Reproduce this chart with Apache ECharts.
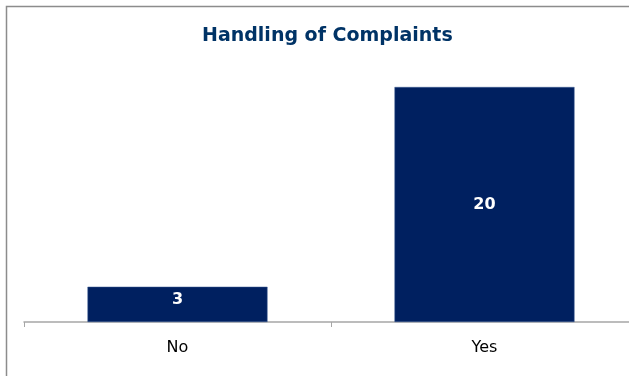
<!DOCTYPE html>
<html>
<head>
<meta charset="utf-8">
<script src="https://cdn.jsdelivr.net/npm/echarts@6/dist/echarts.min.js"></script>
<style>
  html, body { margin: 0; padding: 0; background: #fff; }
  #chart { width: 629px; height: 376px; }
</style>
</head>
<body>
<div id="chart"></div>
<script>
// Responses to the complaints-handling question
const categories = ['No', 'Yes'];
const counts = [3, 20];
const chartTitle = 'Handling of Complaints';

const navy = '#002060';

// short bars get their value label nudged up a little
const barData = counts.map(v => (v < 5 ? { value: v, label: { offset: [0, -5] } } : v));

const chart = echarts.init(document.getElementById('chart'));
chart.setOption({
  animation: false,
  title: {
    text: chartTitle,
    left: 197,
    top: 22,
    textStyle: {
      fontFamily: 'DejaVu Sans',
      fontWeight: 'bold',
      fontSize: 19,
      color: '#003366'
    }
  },
  graphic: [{
    type: 'rect',
    shape: { x: 6.5, y: 6.5, width: 640, height: 400 },
    style: { fill: null, stroke: '#8c8c8c', lineWidth: 1.5 },
    z: -1
  }],
  // the plot runs on past the right edge of the frame
  grid: { left: 24, width: 614, top: 63.5, bottom: 54, outerBoundsMode: 'none', containLabel: false },
  xAxis: {
    type: 'category',
    data: categories,
    axisLine: { lineStyle: { color: '#a6a6a6', width: 1.5 } },
    axisTick: { show: true, length: 5, lineStyle: { color: '#a6a6a6' } },
    axisLabel: {
      margin: 18,
      fontFamily: 'DejaVu Sans',
      fontSize: 16,
      color: '#000'
    }
  },
  yAxis: {
    type: 'value',
    min: 0,
    max: 22,
    show: false,
    splitLine: { show: false }
  },
  series: [{
    type: 'bar',
    data: barData,
    barWidth: 180,
    itemStyle: { color: navy, borderColor: '#3a5a90', borderWidth: 0.5 },
    label: {
      show: true,
      position: 'inside',
      fontFamily: 'DejaVu Sans',
      fontWeight: 'bold',
      fontSize: 16,
      color: '#fff'
    }
  }]
});
</script>
</body>
</html>
